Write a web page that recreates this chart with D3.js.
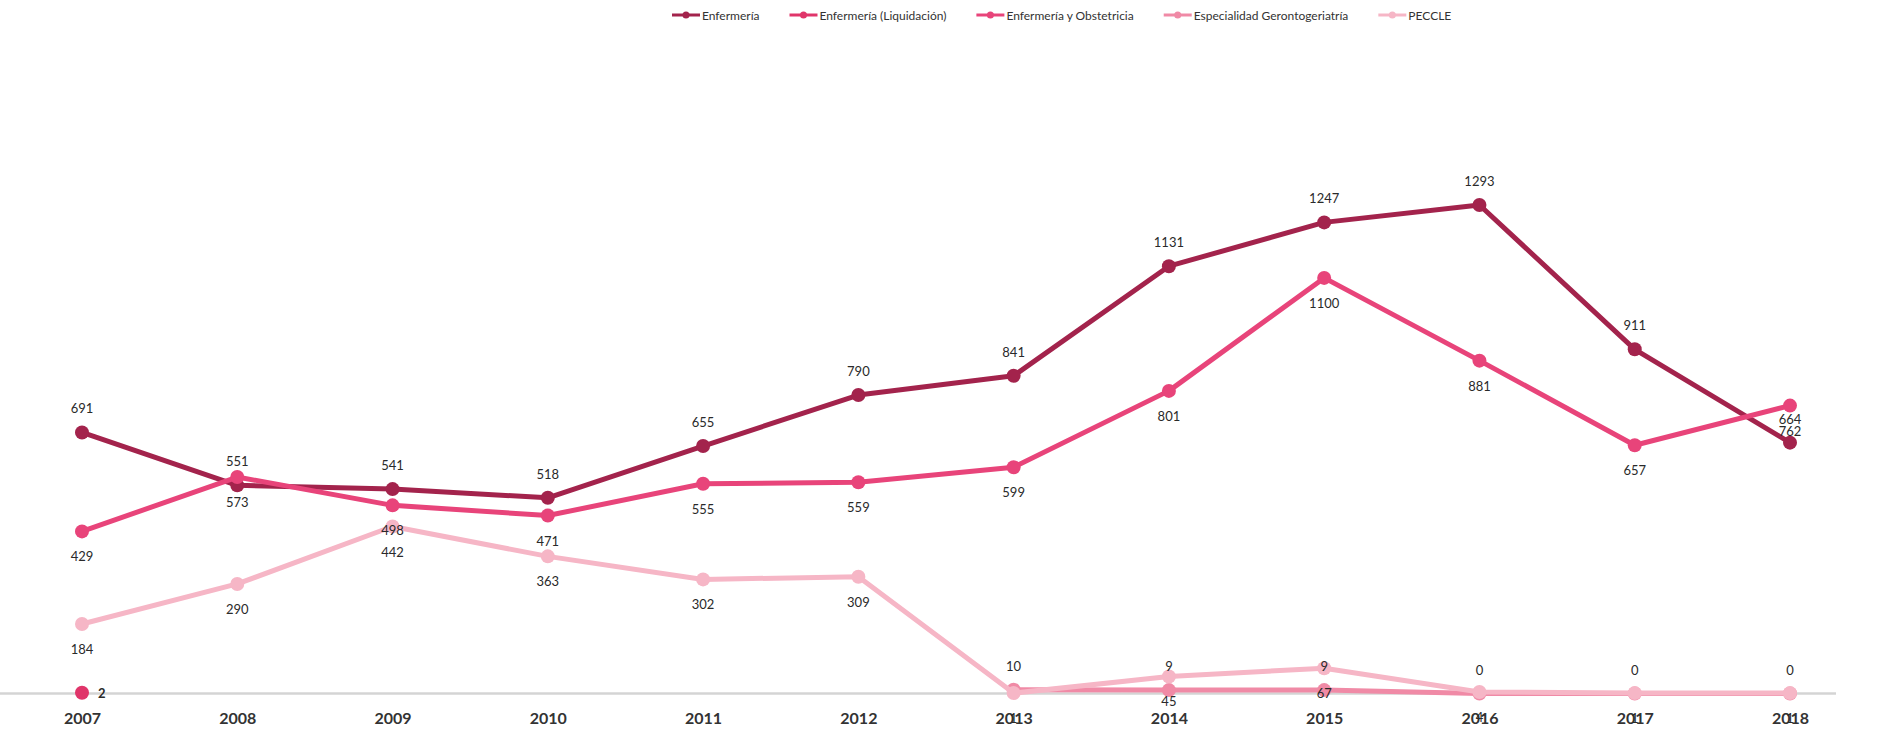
<!DOCTYPE html>
<html>
<head>
<meta charset="utf-8">
<script src="https://cdn.jsdelivr.net/npm/d3@7"></script>
<style>
  html, body { margin: 0; padding: 0; background: #fff; }
  svg { display: block; }
  text { font-family: Lato, "Open Sans", sans-serif; }
</style>
</head>
<body>
<svg id="chart" width="1881" height="731"></svg>
<script>
const years = ["2007","2008","2009","2010","2011","2012","2013","2014","2015","2016","2017","2018"];
const seriesNames = ["Enfermería","Enfermería (Liquidación)","Enfermería y Obstetricia","Especialidad Gerontogeriatría","PECCLE"];
const enfermeria   = [691, 551, 541, 518, 655, 790, 841, 1131, 1247, 1293, 911, 664];
const liquidacion  = [2, null, null, null, null, null, null, null, null, null, null, null];
const obstetricia  = [429, 573, 498, 471, 555, 559, 599, 801, 1100, 881, 657, 762];
const geronto      = [null, null, null, null, null, null, 10, 9, 9, 0, 0, 0];
const peccle       = [184, 290, 442, 363, 302, 309, 1, 45, 67, 4, 1, 1];
const seriesColors = ["#a3234c", "#e0356a", "#e8447a", "#f08aa6", "#f6b6c6"];
const labelPos     = ["above", "right", "below", "above", "below"];

const seriesData = [enfermeria, liquidacion, obstetricia, geronto, peccle];

const svg = d3.select("#chart");
const x = d3.scalePoint().domain(years).range([82, 1790]);
const y = d3.scaleLinear().domain([0, 1293]).range([693.5, 205]);

// baseline
svg.append("line")
  .attr("x1", 0).attr("x2", 1836)
  .attr("y1", y(0)).attr("y2", y(0))
  .attr("stroke", "#d4d4d4").attr("stroke-width", 2.5);

// x axis labels
const xAxis = d3.axisBottom(x).tickSize(0).tickPadding(0);
const gx = svg.append("g").attr("transform", `translate(0, 713)`).call(xAxis);
gx.select(".domain").remove();
gx.selectAll("text")
  .attr("dy", "0.71em")
  .style("font-family", "Lato, sans-serif")
  .style("font-size", "16px")
  .style("font-weight", "700")
  .attr("fill", "#333");

const line = d3.line()
  .defined(d => d.v !== null)
  .x(d => x(d.year))
  .y(d => y(d.v));

seriesData.forEach((vals, i) => {
  const pts = years.map((yr, j) => ({ year: yr, v: vals[j] }));
  const g = svg.append("g");
  g.append("path")
    .datum(pts)
    .attr("d", line)
    .attr("fill", "none")
    .attr("stroke", seriesColors[i])
    .attr("stroke-width", 5)
    .attr("stroke-linejoin", "round");
  const valid = pts.filter(d => d.v !== null);
  g.selectAll("circle").data(valid).enter().append("circle")
    .attr("cx", d => x(d.year))
    .attr("cy", d => y(d.v))
    .attr("r", 7)
    .attr("fill", seriesColors[i]);
});

// data labels
seriesData.forEach((vals, i) => {
  const pts = years.map((yr, j) => ({ year: yr, v: vals[j] })).filter(d => d.v !== null);
  svg.append("g").selectAll("text").data(pts).enter().append("text")
    .attr("x", d => x(d.year) + (labelPos[i] === "right" ? 16 : 0))
    .attr("y", d => y(d.v) + (labelPos[i] === "above" ? -24 : labelPos[i] === "below" ? 25 : 0))
    .attr("text-anchor", labelPos[i] === "right" ? "start" : "middle")
    .attr("dominant-baseline", "central")
    .style("font-size", "13px")
    .style("font-weight", labelPos[i] === "right" ? "700" : "400")
    .attr("fill", "#2a2a2a")
    .text(d => d.v);
});

// legend
const legend = svg.append("g").attr("transform", "translate(672, 15)");
let lx = 0;
seriesNames.forEach((name, i) => {
  const item = legend.append("g").attr("transform", `translate(${lx}, 0)`);
  item.append("line").attr("x1", 0).attr("x2", 28).attr("y1", 0).attr("y2", 0)
    .attr("stroke", seriesColors[i]).attr("stroke-width", 3);
  item.append("circle").attr("cx", 14).attr("cy", 0).attr("r", 3.5).attr("fill", seriesColors[i]);
  const t = item.append("text").attr("x", 30).attr("y", 0)
    .attr("dominant-baseline", "central")
    .style("font-size", "12px")
    .attr("fill", "#333")
    .text(name);
  lx += 30 + t.node().getComputedTextLength() + 30;
});
</script>
</body>
</html>
